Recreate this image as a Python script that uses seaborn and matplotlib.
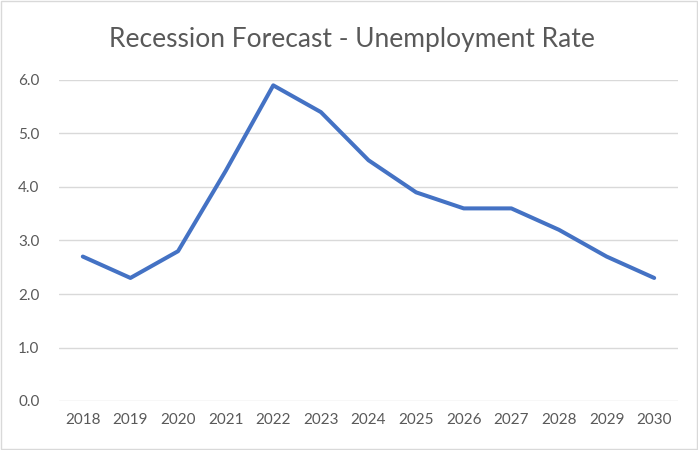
import matplotlib
matplotlib.use("Agg")
import matplotlib.pyplot as plt
import seaborn as sns
import pandas as pd

years = ["2018", "2019", "2020", "2021", "2022", "2023", "2024", "2025", "2026", "2027", "2028", "2029", "2030"]
rates = [2.7, 2.3, 2.8, 4.3, 5.9, 5.4, 4.5, 3.9, 3.6, 3.6, 3.2, 2.7, 2.3]
yticks = [0.0, 1.0, 2.0, 3.0, 4.0, 5.0, 6.0]
title = "Recession Forecast - Unemployment Rate"

sns.set_style("white")
plt.rcParams['font.family'] = ['Lato', 'DejaVu Sans']

df = pd.DataFrame({"year": years, "rate": rates})

fig = plt.figure(figsize=(6.98, 4.5), dpi=100)
ax = fig.add_axes([59/698, 1-401/450, (678-59)/698, (401-80)/450])
sns.lineplot(data=df, x="year", y="rate", ax=ax, color="#4472C4", linewidth=2.9, sort=False)

ax.set_xlim(-0.5, len(years)-0.5)
ax.set_ylim(0, 6)
ax.set_yticks(yticks)
ax.set_yticklabels([f"{v:.1f}" for v in yticks])
ax.grid(axis="y", color="#D9D9D9", linewidth=1)
ax.set_axisbelow(True)
for s in ax.spines.values():
    s.set_visible(False)
ax.tick_params(axis="both", length=0, labelsize=11, colors="#595959")
ax.tick_params(axis="y", pad=14)
ax.tick_params(axis="x", pad=9)
ax.set_xlabel("")
ax.set_ylabel("")

fig.text(352/698, 1-40/450, title, ha="center", va="center", fontsize=19, color="#595959")

border = plt.Rectangle((0.002, 0.002), 0.996, 0.995, transform=fig.transFigure,
                       fill=False, edgecolor="#D9D9D9", linewidth=1)
fig.add_artist(border)

fig.savefig("out.png", dpi=100)
